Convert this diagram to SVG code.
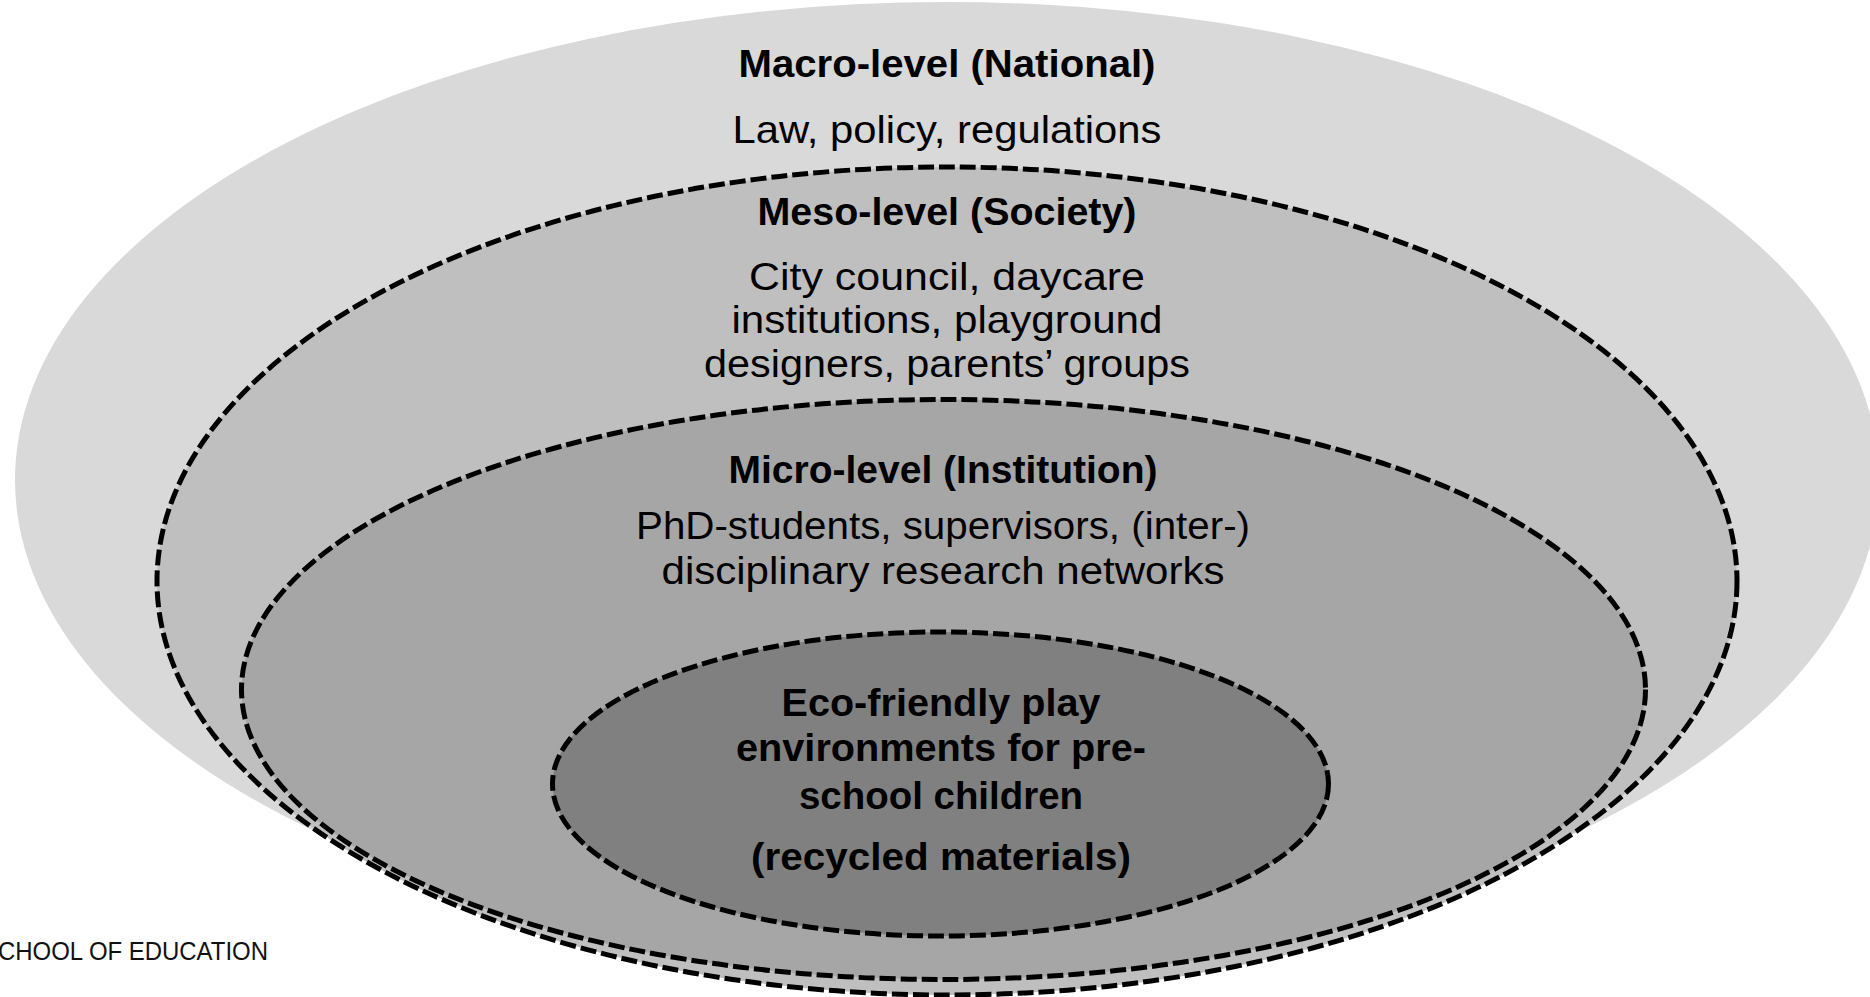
<svg xmlns="http://www.w3.org/2000/svg" width="1870" height="997" viewBox="0 0 1870 997">
  <style>
    .ring { stroke: #000; stroke-width: 5; stroke-dasharray: 16 5; }
    .t { font-family: "Liberation Sans", Arial, sans-serif; font-size: 39px; fill: #000; text-anchor: middle; }
    .b { font-weight: bold; }
    .foot { font-family: "Liberation Sans", Arial, sans-serif; font-size: 25px; fill: #111; }
  </style>
  <rect width="1870" height="997" fill="#ffffff"/>

  <!-- outermost level: national -->
  <g id="macro">
    <ellipse cx="947" cy="480" rx="932" ry="478" fill="#d9d9d9"/>
    <text class="t b" x="947" y="77" textLength="417" lengthAdjust="spacingAndGlyphs">Macro-level (National)</text>
    <text class="t" x="947" y="143" textLength="429" lengthAdjust="spacingAndGlyphs">Law, policy, regulations</text>
  </g>

  <!-- society level -->
  <g id="meso">
    <ellipse class="ring" cx="947" cy="581" rx="790" ry="414" fill="#bfbfbf"/>
    <text class="t b" x="947" y="225" textLength="379" lengthAdjust="spacingAndGlyphs">Meso-level (Society)</text>
    <text class="t" x="947" y="290" textLength="396" lengthAdjust="spacingAndGlyphs">City council, daycare</text>
    <text class="t" x="947" y="333" textLength="431" lengthAdjust="spacingAndGlyphs">institutions, playground</text>
    <text class="t" x="947" y="377" textLength="486" lengthAdjust="spacingAndGlyphs">designers, parents’ groups</text>
  </g>

  <!-- institution level -->
  <g id="micro">
    <ellipse class="ring" cx="943.5" cy="689.5" rx="702" ry="290" fill="#a6a6a6"/>
    <text class="t b" x="943" y="483" textLength="429" lengthAdjust="spacingAndGlyphs">Micro-level (Institution)</text>
    <text class="t" x="943" y="539" textLength="614" lengthAdjust="spacingAndGlyphs">PhD-students, supervisors, (inter-)</text>
    <text class="t" x="943" y="584" textLength="563" lengthAdjust="spacingAndGlyphs">disciplinary research networks</text>
  </g>

  <!-- core: the play environment -->
  <g id="core">
    <ellipse class="ring" cx="940.5" cy="784" rx="388" ry="152" fill="#808080"/>
    <text class="t b" x="941" y="716" textLength="319" lengthAdjust="spacingAndGlyphs">Eco-friendly play</text>
    <text class="t b" x="941" y="761" textLength="410" lengthAdjust="spacingAndGlyphs">environments for pre-</text>
    <text class="t b" x="941" y="809" textLength="284" lengthAdjust="spacingAndGlyphs">school children</text>
    <text class="t b" x="941" y="870" textLength="380" lengthAdjust="spacingAndGlyphs">(recycled materials)</text>
  </g>

  <!-- footer mark -->
  <g id="footer">
    <text class="foot" x="-2" y="960" textLength="270" lengthAdjust="spacingAndGlyphs">CHOOL OF EDUCATION</text>
  </g>
</svg>
